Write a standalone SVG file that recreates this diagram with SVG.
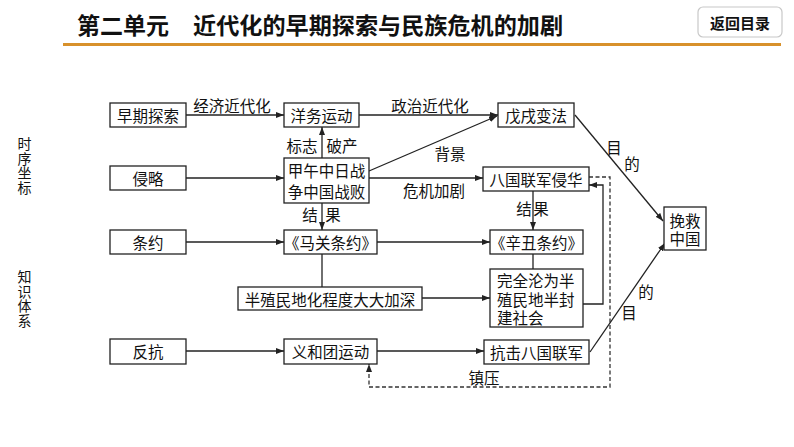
<svg xmlns="http://www.w3.org/2000/svg" width="794" height="447" viewBox="0 0 794 447">
<style>
.box{fill:#fff;stroke:#222;stroke-width:1.3}
.t{font-family:"Noto Sans CJK SC","Noto Sans",sans-serif;font-size:15.5px;fill:#111;text-anchor:middle;dominant-baseline:central}
.l{font-family:"Noto Sans CJK SC","Noto Sans",sans-serif;font-size:15.5px;fill:#111;text-anchor:middle;dominant-baseline:central}
.ln{fill:none;stroke:#222;stroke-width:1.3}
.ar{marker-end:url(#ah)}
.dash{fill:none;stroke:#333;stroke-width:1.3;stroke-dasharray:4,2.5}
.side{font-family:"Noto Sans CJK SC","Noto Sans",sans-serif;font-size:14px;fill:#111;writing-mode:vertical-rl;letter-spacing:0.5px}
</style>
<defs>
<marker id="ah" markerWidth="8" markerHeight="6" refX="8" refY="3" orient="auto" markerUnits="userSpaceOnUse">
<path d="M0,0 L8,3 L0,6 z" fill="#222"/>
</marker>
</defs>
<rect width="794" height="447" fill="#fff"/>
<g id="header">
<text x="77" y="24" font-family="'Noto Sans CJK SC',sans-serif" font-size="23" font-weight="bold" dominant-baseline="central" fill="#111">第二单元</text>
<text x="193" y="24" font-family="'Noto Sans CJK SC',sans-serif" font-size="23" font-weight="bold" dominant-baseline="central" fill="#111" textLength="370" lengthAdjust="spacingAndGlyphs">近代化的早期探索与民族危机的加剧</text>
<line x1="63" y1="44.5" x2="781" y2="44.5" stroke="#d8912b" stroke-width="3"/>
<rect x="698" y="7" width="84" height="30" rx="5" fill="#fff" stroke="#c8c8c8" stroke-width="1.2"/>
<text x="740" y="22" font-family="'Noto Sans CJK SC',sans-serif" font-size="15" font-weight="bold" text-anchor="middle" dominant-baseline="central" fill="#111">返回目录</text>
</g>
<g id="side">
<text class="side" x="24.5" y="137">时序坐标</text>
<text class="side" x="24.5" y="270">知识体系</text>
</g>
<g id="connectors">
<path class="ln ar" d="M186,115 H284"/>
<path class="ln ar" d="M359,115 H498"/>
<path class="ln ar" d="M322,158 V127"/>
<path class="ln ar" d="M369,171 L497,116"/>
<path class="ln ar" d="M186,178 H284"/>
<path class="ln ar" d="M369,178 H483"/>
<path class="ln ar" d="M322,203 V230"/>
<path class="ln ar" d="M533,191 V230"/>
<path class="ln ar" d="M186,242 H284"/>
<path class="ln ar" d="M377,242 H490"/>
<path class="ln" d="M322,254 V287"/>
<path class="ln ar" d="M422,298 H490"/>
<path class="ln" d="M533,254 V269"/>
<path class="ln ar" d="M583,304 H603 V185 H589"/>
<path class="dash ar" d="M589,177 H610 V387 H369 V364"/>
<path class="ln ar" d="M186,351 H284"/>
<path class="ln ar" d="M377,351 H484"/>
<path class="ln ar" d="M575,115 L663,221"/>
<path class="ln ar" d="M590,352 L665,243"/>
<text class="l" x="232" y="105">经济近代化</text>
<text class="l" x="430" y="105">政治近代化</text>
<text class="l" x="302" y="145">标志</text>
<text class="l" x="342" y="145">破产</text>
<text class="l" x="450" y="153">背景</text>
<text class="l" x="434" y="190">危机加剧</text>
<text class="l" x="310" y="214">结</text>
<text class="l" x="333" y="214">果</text>
<text class="l" x="524" y="208">结</text>
<text class="l" x="541" y="208">果</text>
<text class="l" x="614" y="147">目</text>
<text class="l" x="632" y="163">的</text>
<text class="l" x="646" y="291">的</text>
<text class="l" x="629" y="312">目</text>
<text class="l" x="484" y="377">镇压</text>
</g>
<g id="n1"><rect class="box" x="110" y="103" width="76" height="24"/><text class="t" x="148" y="115">早期探索</text></g>
<g id="n2"><rect class="box" x="284" y="103" width="75" height="24"/><text class="t" x="321.5" y="115">洋务运动</text></g>
<g id="n3"><rect class="box" x="498" y="103" width="76" height="24"/><text class="t" x="536" y="115">戊戌变法</text></g>
<g id="n4"><rect class="box" x="110" y="166" width="76" height="24"/><text class="t" x="148" y="178">侵略</text></g>
<g id="n5"><rect class="box" x="284" y="158" width="85" height="45"/><text class="t" x="326.5" y="170" font-size="16">甲午中日战<tspan x="326.5" dy="21">争中国战败</tspan></text></g>
<g id="n6"><rect class="box" x="483" y="167" width="106" height="24"/><text class="t" x="536" y="179" font-size="16">八国联军侵华</text></g>
<g id="n7"><rect class="box" x="110" y="230" width="76" height="24"/><text class="t" x="148" y="242">条约</text></g>
<g id="n8"><rect class="box" x="284" y="230" width="93" height="24"/><text class="t" x="330.5" y="242">《马关条约》</text></g>
<g id="n9"><rect class="box" x="490" y="230" width="93" height="24"/><text class="t" x="536.5" y="242">《辛丑条约》</text></g>
<g id="n10"><rect class="box" x="238" y="287" width="184" height="23"/><text class="t" x="330" y="298.5" font-size="16">半殖民地化程度大大加深</text></g>
<g id="n11"><rect class="box" x="490" y="269" width="93" height="58"/><text class="t" x="497" y="280" font-size="16" style="text-anchor:start">完全沦为半<tspan x="497" dy="18.5">殖民地半封</tspan><tspan x="497" dy="18.5">建社会</tspan></text></g>
<g id="n12"><rect class="box" x="110" y="339" width="76" height="25"/><text class="t" x="148" y="351">反抗</text></g>
<g id="n13"><rect class="box" x="284" y="339" width="93" height="25"/><text class="t" x="330.5" y="351">义和团运动</text></g>
<g id="n14"><rect class="box" x="484" y="340" width="105" height="24"/><text class="t" x="536.5" y="352" font-size="16">抗击八国联军</text></g>
<g id="n15"><rect class="box" x="664" y="207" width="42" height="43"/><text class="t" x="685" y="220">挽救<tspan x="685" dy="18">中国</tspan></text></g>
</svg>
